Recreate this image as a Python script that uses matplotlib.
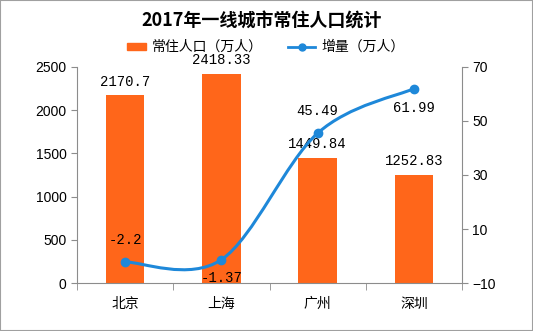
import numpy as np
import matplotlib.pyplot as plt
from matplotlib.path import Path
from matplotlib.patches import PathPatch, Rectangle

plt.rcParams['font.family'] = ['Noto Sans CJK SC', 'DejaVu Sans']

cities = ['北京', '上海', '广州', '深圳']
population = [2170.7, 2418.33, 1449.84, 1252.83]
increase = [-2.2, -1.37, 45.49, 61.99]
pop_ticks = [0, 500, 1000, 1500, 2000, 2500]
inc_ticks = [-10, 10, 30, 50, 70]

BAR = '#ff661a'
LINE = '#1e88d9'
AXIS = '#8c8c8c'
NUM_FONT = ['Liberation Mono', 'DejaVu Sans Mono']


def smooth_path(xs, ys):
    # Catmull-Rom style bezier through the points
    pts = np.column_stack([xs, ys]).astype(float)
    n = len(pts)
    verts = [pts[0]]
    codes = [Path.MOVETO]
    for i in range(n - 1):
        p0 = pts[max(i - 1, 0)]
        p1 = pts[i]
        p2 = pts[i + 1]
        p3 = pts[min(i + 2, n - 1)]
        c1 = p1 + (p2 - p0) / 6.0
        c2 = p2 - (p3 - p1) / 6.0
        verts += [c1, c2, p2]
        codes += [Path.CURVE4] * 3
    return Path(verts, codes)


fig = plt.figure(figsize=(5.33, 3.31), dpi=100)
fig.patch.set_facecolor('white')
fig.patches.append(Rectangle((0, 0), 1, 1, transform=fig.transFigure,
                             fill=False, edgecolor='#a0a0a0', lw=1.5))

ax = fig.add_axes([0.1445, 0.145, 0.7223, 0.6526])
x = np.arange(len(cities))
ax.bar(x, population, width=0.4, color=BAR, zorder=1)
ax.set_xlim(-0.5, 3.5)
ax.set_ylim(0, 2500)
ax.set_yticks(pop_ticks)
ax.set_xticks(x)
ax.set_xticklabels(cities, fontsize=10)
ax.set_xticks(np.arange(-0.5, 3.6, 1), minor=True)
ax.tick_params(axis='x', which='major', length=0, pad=10)
ax.tick_params(axis='x', which='minor', length=5, color=AXIS)
ax.tick_params(axis='y', length=4, color=AXIS, labelsize=10)
for t in ax.get_yticklabels():
    t.set_family(['Liberation Sans'])
for s in ['top', 'right']:
    ax.spines[s].set_visible(False)
for s in ['left', 'bottom']:
    ax.spines[s].set_color(AXIS)

for xi, v in zip(x, population):
    ax.annotate(f'{v:g}', (xi, v), xytext=(0, 10), textcoords='offset points',
                ha='center', va='center', fontsize=10, family=NUM_FONT)

ax2 = ax.twinx()
ax2.set_ylim(-10, 70)
ax2.set_yticks(inc_ticks)
ax2.tick_params(axis='y', length=4, color=AXIS, labelsize=10)
for t in ax2.get_yticklabels():
    t.set_family(['Liberation Sans'])
for s in ['top', 'left', 'bottom']:
    ax2.spines[s].set_visible(False)
ax2.spines['right'].set_color(AXIS)

ax2.add_patch(PathPatch(smooth_path(x, increase), fill=False,
                        edgecolor=LINE, lw=2.2, zorder=3))
ax2.plot(x, increase, 'o', color=LINE, ms=6, zorder=4)

label_offsets = [16, -13, 16, -14]
for xi, v, dy in zip(x, increase, label_offsets):
    ax2.annotate(f'{v:g}', (xi, v), xytext=(0, dy), textcoords='offset points',
                 ha='center', va='center', fontsize=10, family=NUM_FONT)

fig.text(0.49, 0.935, '2017年一线城市常住人口统计', ha='center', va='center',
         fontsize=13, fontweight='bold')

# legend
fig.patches.append(Rectangle((127 / 533, 1 - 50 / 331), 19 / 533, 7 / 331,
                             transform=fig.transFigure, color=BAR))
fig.text(152 / 533, 1 - 46.5 / 331, '常住人口（万人）', ha='left', va='center',
         fontsize=10)
fig.lines.append(plt.Line2D([288 / 533, 315 / 533], [1 - 47 / 331] * 2,
                            transform=fig.transFigure, color=LINE, lw=2))
fig.lines.append(plt.Line2D([301.5 / 533], [1 - 47 / 331],
                            transform=fig.transFigure, color=LINE,
                            marker='o', ms=5, lw=0))
fig.text(321 / 533, 1 - 46.5 / 331, '增量（万人）', ha='left', va='center',
         fontsize=10)

fig.savefig('out.png', dpi=100)
